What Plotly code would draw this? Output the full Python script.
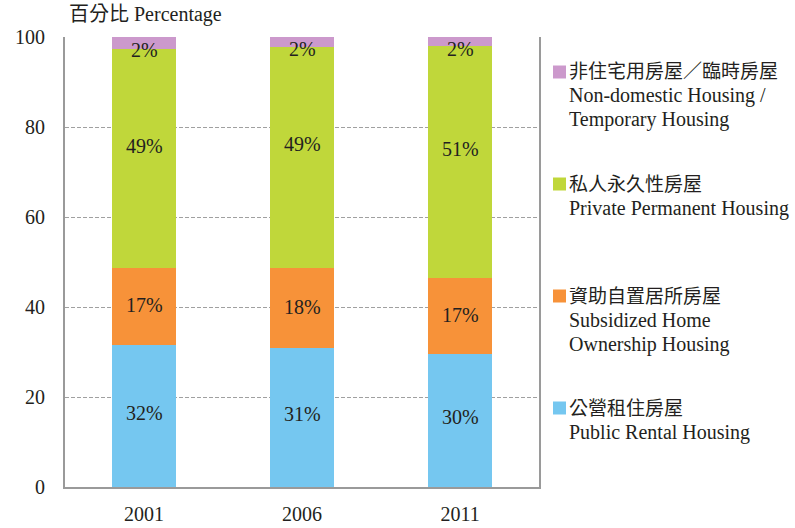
import plotly.graph_objects as go

years = ['2001', '2006', '2011']

public_rental = [31.6, 30.9, 29.6]
subsidized = [17.1, 17.8, 16.9]
private_perm = [48.6, 49.1, 51.5]
non_domestic = [2.7, 2.2, 2.0]

public_lbl = ['32%', '31%', '30%']
subsidized_lbl = ['17%', '18%', '17%']
private_lbl = ['49%', '49%', '51%']
non_domestic_lbl = ['2%', '2%', '2%']

series_names = [
    ['公營租住房屋', 'Public Rental Housing'],
    ['資助自置居所房屋', 'Subsidized Home', 'Ownership Housing'],
    ['私人永久性房屋', 'Private Permanent Housing'],
    ['非住宅用房屋／臨時房屋', 'Non-domestic Housing /', 'Temporary Housing'],
]
colors = ['#75C7F0', '#F79239', '#C0D73A', '#CC99CC']
# nudge of the value labels from the middle of each segment (pixels)
label_shift = [3, 1, 13, -7]

serif = 'Liberation Serif, Times New Roman, Noto Sans CJK TC'
ink = '#231F20'

# plot area in pixels
L, T, R, B = 65, 37, 539, 487
W, H = R - L, B - T


def px_x(p):
    return (p - L) / W


def px_y(p):
    return (B - p) / H


fig = go.Figure()
annotations = []
base = [0.0] * len(years)
for vals, lbls, name, col, shift in zip(
        [public_rental, subsidized, private_perm, non_domestic],
        [public_lbl, subsidized_lbl, private_lbl, non_domestic_lbl],
        series_names, colors, label_shift):
    fig.add_trace(go.Bar(
        x=years, y=vals, name=' '.join(name),
        marker=dict(color=col, line=dict(width=0)),
        hoverinfo='skip'))
    for k, (v, t) in enumerate(zip(vals, lbls)):
        # x given as category index so '2001' is not read as a number
        annotations.append(dict(
            text=t, x=k, y=base[k] + v / 2, xref='x', yref='y',
            yshift=shift, showarrow=False,
            font=dict(family=serif, size=20, color=ink)))
        base[k] += v

# legend built by hand: square + lines of text, top entry is the last series
shapes = []
entry_top, entry_step, line_step = 72, 112, 24
for i, (name, col) in enumerate(zip(series_names[::-1], colors[::-1])):
    y0 = entry_top + i * entry_step
    shapes.append(dict(type='rect', xref='paper', yref='paper',
                       x0=px_x(553), x1=px_x(566),
                       y0=px_y(y0 - 6.5), y1=px_y(y0 + 6.5),
                       fillcolor=col, line=dict(width=0)))
    for j, line in enumerate(name):
        annotations.append(dict(
            text=line, xref='paper', yref='paper',
            x=px_x(567), y=px_y(y0 + j * line_step),
            xanchor='left', yanchor='middle', showarrow=False,
            font=dict(family=serif, size=19 if j == 0 else 20, color=ink)))

annotations.append(dict(
    text='百分比 Percentage', xref='paper', yref='paper',
    x=px_x(67), y=px_y(15), xanchor='left', yanchor='middle',
    showarrow=False, font=dict(family=serif, size=20, color=ink)))

fig.update_layout(
    barmode='stack', bargap=0.6, showlegend=False,
    width=795, height=528, autosize=False,
    margin=dict(l=L, r=795 - R, t=T, b=528 - B, pad=0),
    paper_bgcolor='white', plot_bgcolor='white',
    font=dict(family=serif, size=20, color=ink),
    annotations=annotations, shapes=shapes,
    xaxis=dict(type='category', range=[-0.5, len(years) - 0.5],
               showline=True, linecolor='#9A9A9A',
               linewidth=2, ticks='', showgrid=False, ticklabelstandoff=8,
               automargin=False,
               tickfont=dict(family=serif, size=20, color=ink)),
    yaxis=dict(range=[0, 100], dtick=20, showline=True, mirror=True,
               linecolor='#9A9A9A', linewidth=2,
               showgrid=True, gridcolor='#A0A0A0', gridwidth=1,
               griddash='4px,2px', zeroline=False, ticks='',
               ticklabelstandoff=14, automargin=False,
               tickfont=dict(family=serif, size=20, color=ink)),
)

# the page body has a default 8px margin; drop it so the figure sits at 0,0
fig.write_html('out.html', config={'displayModeBar': False},
               post_script="document.body.style.margin='0';")
